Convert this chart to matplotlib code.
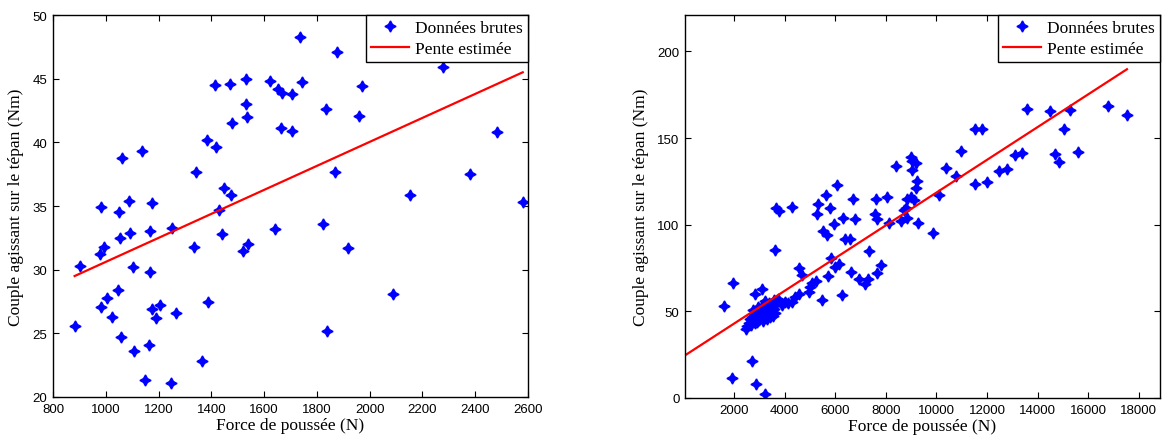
import numpy as np
import matplotlib
matplotlib.use('Agg')
import matplotlib.pyplot as plt

# Graphe de gauche : force de poussée (N) / couple (Nm)
force_g = [882, 901, 981, 983, 978, 995, 1006, 1022, 1045, 1049, 1053, 1063, 1059,
           1087, 1090, 1104, 1108, 1138, 1147, 1162, 1166, 1166, 1176, 1174, 1189,
           1204, 1248, 1252, 1265, 1333, 1341, 1363, 1382, 1389, 1413, 1416, 1429,
           1439, 1449, 1473, 1471, 1478, 1521, 1538, 1530, 1530, 1535, 1621, 1641,
           1653, 1666, 1664, 1707, 1707, 1737, 1877, 1743, 1970, 1833, 1958, 2278,
           1869, 2154, 2380, 2484, 2580, 1824, 1918, 2090, 1838]
couple_g = [25.6, 30.3, 34.9, 27.1, 31.2, 31.8, 27.8, 26.3, 28.4, 34.5, 32.5, 38.8, 24.7,
            35.4, 32.9, 30.2, 23.6, 39.3, 21.3, 24.1, 33.0, 29.8, 35.2, 26.9, 26.2,
            27.2, 21.1, 33.3, 26.6, 31.8, 37.7, 22.8, 40.2, 27.5, 44.5, 39.6, 34.7,
            32.8, 36.4, 35.9, 44.6, 41.5, 31.5, 32.0, 45.0, 43.0, 42.0, 44.8, 33.2,
            44.2, 43.9, 41.1, 43.8, 40.9, 48.3, 47.1, 44.7, 44.4, 42.6, 42.1, 45.9,
            37.7, 35.9, 37.5, 40.8, 35.3, 33.6, 31.7, 28.1, 25.2]
pente_g_x = [882, 2580]
pente_g_y = [29.5, 45.5]

# Graphe de droite
force_d = [1603, 1960, 1921, 2702, 2848, 3219, 2464, 2821, 3086, 3232,
           2520, 2580, 2630, 2660, 2700, 2740, 2770, 2810, 2850, 2880, 2920, 2950,
           2990, 3020, 3060, 3100, 3130, 3170, 3210, 3250, 3290, 3330, 3370, 3410,
           3450, 3490, 3530, 3580, 3620, 3660, 2760, 2940, 3150, 3380, 3560, 3720,
           3616, 3643, 3775, 4305, 3881, 4014, 4146, 4278, 4411, 4543, 4570, 4676,
           4941, 5007, 5073, 5232, 5471, 5272, 5311, 5497, 5669, 5630, 5775, 5709,
           5841, 5961, 6067, 6000, 6133, 6265, 6305, 6398, 6596, 6623, 6702, 6795,
           6954, 7192, 7298, 7325, 7563, 7590, 7630, 7656, 7789, 8026, 8120, 8411,
           8583, 8782, 8848, 8980, 9113, 8994, 9046, 9179, 9020, 9245, 9205, 9272,
           8848, 8716,
           9875, 10112, 10376, 10771, 10969, 11523, 11523, 11813, 12010, 12472,
           12801, 13104, 13368, 13592, 14475, 14686, 14831, 15055, 15279, 15595,
           16782, 17533]
couple_d = [53.1, 66.3, 11.7, 21.4, 8.0, 2.4, 40.1, 60.1, 62.8, 55.8,
            41.5, 43.0, 45.5, 42.0, 47.0, 44.5, 48.5, 43.5, 46.0, 49.5, 44.0, 47.5,
            45.0, 50.0, 46.5, 48.0, 44.5, 51.0, 47.0, 49.0, 45.5, 52.0, 48.5, 46.5,
            50.5, 53.0, 47.5, 51.5, 49.0, 54.5, 51.0, 52.5, 53.5, 55.0, 56.5, 57.0,
            85.4, 109.4, 108.0, 110.5, 53.9, 55.2, 54.8, 55.2, 58.1, 60.1, 75.0, 71.1,
            61.4, 64.0, 66.3, 67.8, 56.8, 106.3, 111.7, 96.2, 93.9, 117.1, 109.4, 70.5,
            80.8, 100.3, 122.9, 75.5, 77.5, 59.5, 104.0, 91.6, 91.6, 72.6, 114.8, 103.4,
            68.4, 65.9, 68.8, 85.0, 105.9, 114.8, 103.2, 72.3, 76.9, 116.2, 101.1, 134.0,
            102.0, 109.4, 114.6, 116.2, 114.2, 138.8, 136.5, 135.5, 131.6, 125.2, 121.4, 101.1,
            103.6, 108.4,
            95.3, 117.3, 132.6, 128.1, 142.4, 123.3, 155.2, 155.2, 124.4, 131.2,
            132.0, 140.5, 141.1, 166.9, 165.7, 140.7, 135.9, 155.2, 166.1, 141.9,
            168.6, 163.2]
pente_d_x = [0, 17533]
pente_d_y = [24.1, 189.7]

serif = 'Liberation Serif'
sans = 'Liberation Sans'


def trace(ax, x, y, lx, ly, xlim, ylim, xticks, yticks):
    ax.plot(x, y, linestyle='none', marker=(4, 1, 0), markersize=8,
            color='#0000ff', markeredgewidth=1.0, label='Données brutes')
    ax.plot(lx, ly, color='#ff0000', linewidth=1.6, label='Pente estimée')
    ax.set_xlim(*xlim)
    ax.set_ylim(*ylim)
    ax.set_xticks(xticks)
    ax.set_yticks(yticks)
    ax.tick_params(direction='in', top=True, right=True, length=4, width=0.8,
                   labelsize=9.5, pad=4)
    for lab in ax.get_xticklabels() + ax.get_yticklabels():
        lab.set_family(sans)
    for s in ax.spines.values():
        s.set_linewidth(1.0)
    ax.set_xlabel('Force de poussée (N)', family=serif, fontsize=12.5, labelpad=2)
    ax.set_ylabel('Couple agissant sur le tépan (Nm)', family=serif, fontsize=12.5,
                  labelpad=6)
    leg = ax.legend(loc='upper right', borderaxespad=0, fancybox=False,
                    edgecolor='k', framealpha=1, numpoints=1,
                    prop={'family': serif, 'size': 12.5},
                    handlelength=2.2, handletextpad=0.35, borderpad=0.3,
                    labelspacing=0.25)
    leg.get_frame().set_linewidth(1.0)


fig = plt.figure(figsize=(11.62, 4.39), dpi=100)
ax1 = fig.add_axes([53 / 1162, 1 - 398 / 439, 475 / 1162, 382 / 439])
ax2 = fig.add_axes([685 / 1162, 1 - 399 / 439, 475 / 1162, 383 / 439])

trace(ax1, force_g, couple_g, pente_g_x, pente_g_y, (800, 2600), (20, 50),
      np.arange(800, 2601, 200), np.arange(20, 51, 5))
trace(ax2, force_d, couple_d, pente_d_x, pente_d_y, (54, 18840), (0, 221),
      np.arange(2000, 18001, 2000), np.arange(0, 201, 50))

fig.savefig('out.png', dpi=100)
